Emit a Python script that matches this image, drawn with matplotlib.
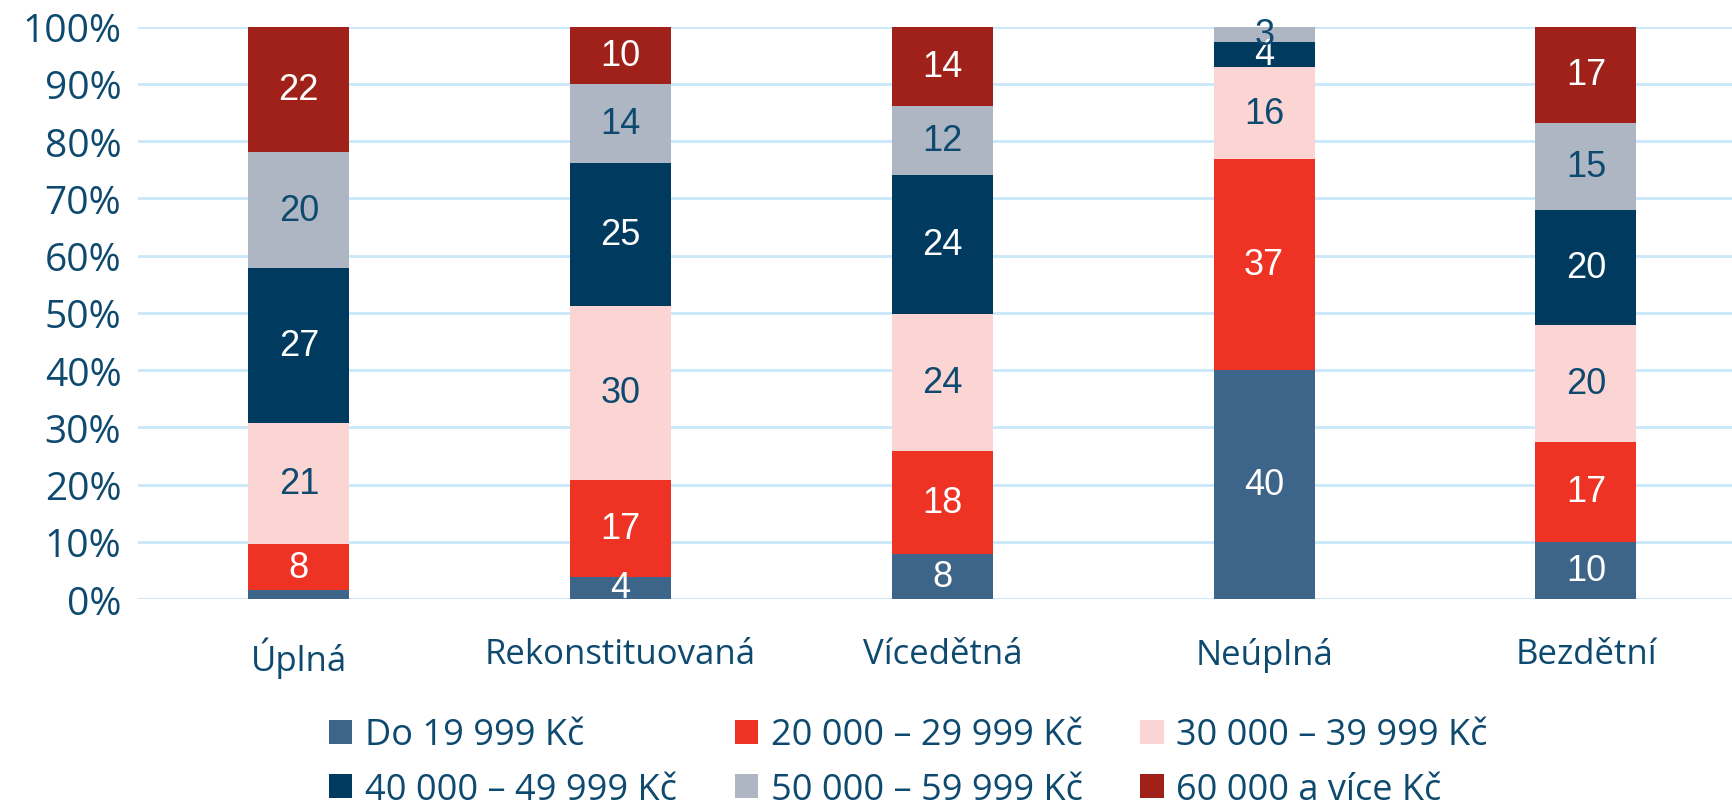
import numpy as np
import matplotlib.pyplot as plt

# categories and stacked shares (%)
categories = ["Úplná", "Rekonstituovaná", "Vícedětná", "Neúplná", "Bezdětní"]
series_names = ["Do 19 999 Kč", "20 000 – 29 999 Kč", "30 000 – 39 999 Kč",
                "40 000 – 49 999 Kč", "50 000 – 59 999 Kč", "60 000 a více Kč"]
do_19999 = [1.5, 3.9, 7.9, 40.0, 10.0]
od_20000 = [8.1, 16.9, 18.0, 36.8, 17.4]
od_30000 = [21.2, 30.4, 23.9, 16.2, 20.4]
od_40000 = [27.0, 25.0, 24.2, 4.3, 20.2]
od_50000 = [20.3, 13.8, 12.2, 2.7, 15.1]
od_60000 = [21.9, 10.0, 13.8, 0.0, 16.9]

colors = ["#3D6489", "#EE3224", "#FBD5D3", "#003B5F", "#AFB6C3", "#A0211A"]
label_colors = ["white", "white", "#0E4A6F", "white", "#0E4A6F", "white"]
text_color = "#0E4A6F"

series = [do_19999, od_20000, od_30000, od_40000, od_50000, od_60000]

fig = plt.figure(figsize=(17.33, 8.03), dpi=100)
ax = fig.add_axes([0.0796, 0.2528, 0.9204, 0.7128])

x = np.arange(len(categories))
bottom = np.zeros(len(categories))
handles = []
for vals, name, col, lcol in zip(series, series_names, colors, label_colors):
    vals = np.array(vals)
    bars = ax.bar(x, vals, 0.314, bottom=bottom, color=col, label=name, zorder=3)
    handles.append(bars)
    for xi, v, b in zip(x, vals, bottom):
        if v >= 2:
            ax.text(xi, b + v / 2, f"{v:.0f}", ha="center", va="center",
                    color=lcol, fontsize=26, family="Liberation Sans", zorder=4)
    bottom += vals

ax.set_ylim(0, 100)
ax.set_xlim(-0.5, 4.457)
ax.set_yticks(np.arange(0, 101, 10))
ax.set_yticklabels([f"{t}%" for t in range(0, 101, 10)])
ax.set_xticks(x)
ax.set_xticklabels(categories)
ax.grid(axis="y", color="#C9E8FA", linewidth=2, zorder=0)
ax.set_axisbelow(True)
for s in ax.spines.values():
    s.set_visible(False)
ax.tick_params(axis="both", length=0, colors=text_color)
ax.tick_params(axis="y", labelsize=28, pad=12)
ax.tick_params(axis="x", labelsize=25, pad=27)
for lab in ax.get_xticklabels() + ax.get_yticklabels():
    lab.set_family("Open Sans")

# legend reads row by row in the reference
order = [0, 3, 1, 4, 2, 5]
leg = fig.legend(handles=[handles[i] for i in order],
                 labels=[series_names[i] for i in order], ncol=3,
                 loc="upper left", bbox_to_anchor=(0.171, 0.146),
                 frameon=False, handlelength=0.65, handleheight=0.65,
                 handletextpad=0.35, columnspacing=1.6, labelspacing=0.52,
                 prop={"family": "Open Sans", "size": 26})
for t in leg.get_texts():
    t.set_color(text_color)

fig.savefig("out.png", dpi=100)
